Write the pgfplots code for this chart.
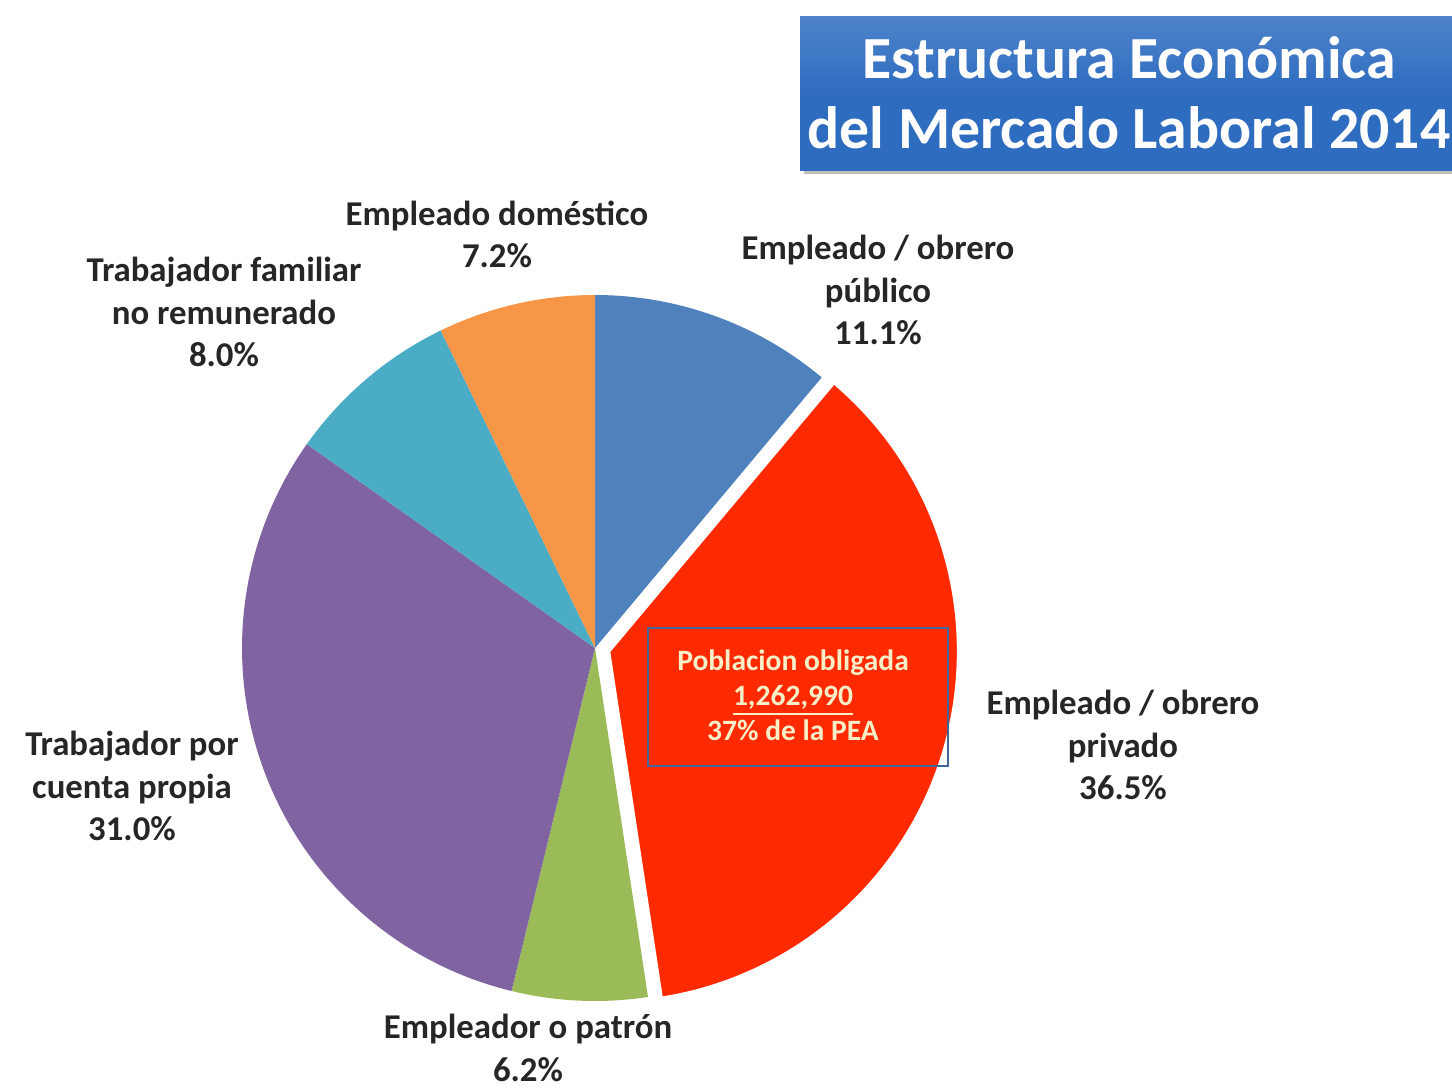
\documentclass[border=0pt]{standalone}
\usepackage{pgfplots}
\pgfplotsset{compat=1.18}
\usepackage{fontspec}
\setmainfont{Carlito}
\definecolor{cblue}{HTML}{4F81BD}
\definecolor{cred}{HTML}{FF2A00}
\definecolor{cgreen}{HTML}{9BBB59}
\definecolor{cpurple}{HTML}{8064A2}
\definecolor{cteal}{HTML}{4BACC6}
\definecolor{corange}{HTML}{F79646}
\definecolor{titleblue}{HTML}{2E6CC0}
\definecolor{boxtxt}{HTML}{F8EEC8}
\begin{document}
\begin{tikzpicture}
\begin{axis}[
  x=1cm, y=1cm,
  xmin=0, xmax=14.52, ymin=0, ymax=10.90,
  hide axis, clip=false,
]
% slices: percentages (cumulative start -> end), angle = 90 - 3.6*p
\fill[cblue] (axis cs:5.95,4.42) -- ++({90-3.6*0}:3.53) arc[start angle={90-3.6*0}, end angle={90-3.6*11.1}, radius=3.53] -- cycle;
\fill[cgreen] (axis cs:5.95,4.42) -- ++({90-3.6*47.6}:3.53) arc[start angle={90-3.6*47.6}, end angle={90-3.6*53.8}, radius=3.53] -- cycle;
\fill[cpurple] (axis cs:5.95,4.42) -- ++({90-3.6*53.8}:3.53) arc[start angle={90-3.6*53.8}, end angle={90-3.6*84.8}, radius=3.53] -- cycle;
\fill[cteal] (axis cs:5.95,4.42) -- ++({90-3.6*84.8}:3.53) arc[start angle={90-3.6*84.8}, end angle={90-3.6*92.8}, radius=3.53] -- cycle;
\fill[corange] (axis cs:5.95,4.42) -- ++({90-3.6*92.8}:3.53) arc[start angle={90-3.6*92.8}, end angle={90-3.6*100}, radius=3.53] -- cycle;
% exploded slice
\filldraw[fill=cred, draw=white, line width=1.8pt, line join=round] (axis cs:6.07,4.39) -- ++({90-3.6*11.1}:3.53) arc[start angle={90-3.6*11.1}, end angle={90-3.6*47.6}, radius=3.53] -- cycle;
% inner box
\draw[cblue!80!black, line width=0.8pt] (axis cs:6.48,3.24) rectangle (axis cs:9.48,4.62);
\node[text=boxtxt, font=\fontsize{8.4pt}{10pt}\selectfont\bfseries, align=center] at (axis cs:7.93,3.95) {Poblacion obligada\\\underline{1,262,990}\\37\% de la PEA};
% title
\fill[black!25] (axis cs:8.04,9.16) rectangle (axis cs:14.52,10.70);
\shade[top color=titleblue!85!white, bottom color=titleblue, middle color=titleblue] (axis cs:8.00,9.20) rectangle (axis cs:14.52,10.73);
\node[text=white, font=\fontsize{17pt}{20pt}\selectfont\bfseries, align=center] at (axis cs:11.29,9.97) {Estructura Económica\\del Mercado Laboral 2014};
% labels
\begin{scope}[every node/.style={font=\fontsize{9.9pt}{12pt}\selectfont\bfseries, text=black!85, align=center}]
\node at (axis cs:4.97,8.56) {Empleado doméstico\\7.2\%};
\node at (axis cs:2.24,7.78) {Trabajador familiar\\no remunerado\\8.0\%};
\node at (axis cs:8.78,8.00) {Empleado / obrero\\público\\11.1\%};
\node at (axis cs:11.23,3.45) {Empleado / obrero\\privado\\36.5\%};
\node at (axis cs:1.32,3.04) {Trabajador por\\cuenta propia\\31.0\%};
\node at (axis cs:5.28,0.42) {Empleador o patrón\\6.2\%};
\end{scope}
\end{axis}
\pgfresetboundingbox
\path (0,0) rectangle (14.52,10.90);
\end{tikzpicture}
\end{document}
